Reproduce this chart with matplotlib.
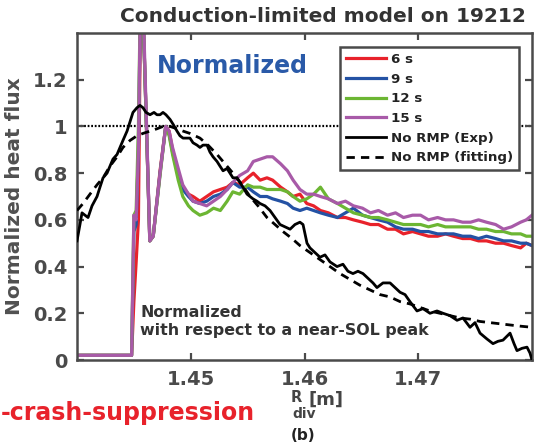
import numpy as np
import matplotlib
matplotlib.use("Agg")
import matplotlib.pyplot as plt
from matplotlib.lines import Line2D

plt.rcParams["font.family"] = ["DejaVu Sans"]
plt.rcParams["font.weight"] = "bold"

# ----------------------------- data ------------------------------------------

# shared radial grid for the RMP time slices [m]
R_rmp = [1.4400, 1.4448, 1.4450, 1.4452, 1.4454, 1.4456, 1.4458, 1.4464, 1.4467,
         1.4473, 1.4478, 1.4481, 1.4484, 1.4489, 1.4493, 1.4498, 1.4502, 1.4508,
         1.4514, 1.4520, 1.4526, 1.4532, 1.4537, 1.4543, 1.4550, 1.4555, 1.4561,
         1.4567, 1.4572, 1.4579, 1.4585, 1.4590, 1.4596, 1.4602, 1.4608, 1.4614,
         1.4621, 1.4629, 1.4636, 1.4643, 1.4651, 1.4658, 1.4665, 1.4673, 1.4680,
         1.4687, 1.4695, 1.4702, 1.4709, 1.4717, 1.4724, 1.4731, 1.4739, 1.4746,
         1.4753, 1.4760, 1.4768, 1.4775, 1.4782, 1.4790, 1.4795, 1.4800]

q_6s = [0.02, 0.02, 0.25, 0.42, 0.60, 1.60, 1.50, 0.51, 0.53, 0.81, 1.00, 0.98,
        0.90, 0.80, 0.74, 0.71, 0.70, 0.68, 0.70, 0.72, 0.73, 0.74, 0.76, 0.75,
        0.78, 0.80, 0.77, 0.78, 0.77, 0.74, 0.72, 0.70, 0.71, 0.67, 0.66, 0.64,
        0.63, 0.61, 0.61, 0.60, 0.59, 0.58, 0.58, 0.56, 0.56, 0.54, 0.55, 0.54,
        0.53, 0.53, 0.54, 0.53, 0.52, 0.52, 0.51, 0.51, 0.50, 0.50, 0.49, 0.48,
        0.50, 0.49]

q_9s = [0.02, 0.02, 0.55, 0.58, 0.90, 1.60, 1.50, 0.51, 0.53, 0.80, 1.00, 0.97,
        0.89, 0.79, 0.73, 0.70, 0.68, 0.67, 0.68, 0.70, 0.71, 0.73, 0.76, 0.74,
        0.74, 0.72, 0.70, 0.70, 0.69, 0.68, 0.67, 0.65, 0.64, 0.65, 0.64, 0.63,
        0.62, 0.61, 0.63, 0.65, 0.62, 0.61, 0.60, 0.59, 0.57, 0.56, 0.56, 0.55,
        0.55, 0.54, 0.54, 0.54, 0.53, 0.53, 0.52, 0.53, 0.52, 0.51, 0.51, 0.50,
        0.50, 0.49]

q_12s = [0.02, 0.02, 0.62, 0.64, 1.00, 1.65, 1.50, 0.51, 0.53, 0.79, 1.00, 0.96,
         0.88, 0.77, 0.70, 0.66, 0.64, 0.62, 0.63, 0.65, 0.64, 0.68, 0.72, 0.71,
         0.75, 0.74, 0.74, 0.73, 0.73, 0.73, 0.72, 0.70, 0.68, 0.69, 0.71, 0.74,
         0.69, 0.67, 0.65, 0.63, 0.62, 0.61, 0.61, 0.60, 0.59, 0.58, 0.58, 0.58,
         0.57, 0.58, 0.57, 0.57, 0.57, 0.57, 0.56, 0.56, 0.55, 0.55, 0.54, 0.54,
         0.53, 0.53]

q_15s = [0.02, 0.02, 0.62, 0.60, 0.90, 1.65, 1.55, 0.51, 0.53, 0.80, 1.00, 0.98,
         0.91, 0.82, 0.75, 0.71, 0.68, 0.67, 0.66, 0.68, 0.70, 0.73, 0.76, 0.79,
         0.81, 0.85, 0.86, 0.87, 0.87, 0.84, 0.81, 0.77, 0.73, 0.71, 0.71, 0.70,
         0.69, 0.67, 0.68, 0.66, 0.65, 0.63, 0.64, 0.62, 0.63, 0.61, 0.62, 0.62,
         0.60, 0.61, 0.60, 0.60, 0.59, 0.59, 0.60, 0.59, 0.58, 0.56, 0.57, 0.59,
         0.60, 0.62]

# no-RMP reference discharge, measured profile
R_exp = [1.44000, 1.44026, 1.44044, 1.44070, 1.44097, 1.44132, 1.44176, 1.44202,
         1.44229, 1.44264, 1.44290, 1.44316, 1.44352, 1.44378, 1.44404, 1.44440,
         1.44466, 1.44492, 1.44527, 1.44554, 1.44580, 1.44607, 1.44642, 1.44677,
         1.44703, 1.44730, 1.44756, 1.44782, 1.44818, 1.44844, 1.44879, 1.44905,
         1.44932, 1.44967, 1.44993, 1.45020, 1.45055, 1.45081, 1.45108, 1.45143,
         1.45169, 1.45196, 1.45231, 1.45257, 1.45284, 1.45319, 1.45345, 1.45371,
         1.45407, 1.45433, 1.45459, 1.45495, 1.45521, 1.45547, 1.45582, 1.45609,
         1.45653, 1.45697, 1.45741, 1.45785, 1.45829, 1.45873, 1.45916, 1.45960,
         1.45987, 1.46022, 1.46048, 1.46092, 1.46136, 1.46180, 1.46224, 1.46286,
         1.46338, 1.46382, 1.46426, 1.46470, 1.46514, 1.46558, 1.46602, 1.46637,
         1.46690, 1.46752, 1.46796, 1.46840, 1.46884, 1.46927, 1.46989, 1.47042,
         1.47103, 1.47165, 1.47218, 1.47279, 1.47341, 1.47393, 1.47455, 1.47499,
         1.47543, 1.47604, 1.47657, 1.47701, 1.47745, 1.47807, 1.47842, 1.47868,
         1.47912, 1.47956, 1.47982, 1.48000]
q_exp = [0.51, 0.58, 0.63, 0.62, 0.61, 0.66, 0.70, 0.74, 0.78, 0.80, 0.83, 0.86,
         0.88, 0.91, 0.94, 0.98, 1.02, 1.06, 1.08, 1.09, 1.08, 1.06, 1.05, 1.06,
         1.05, 1.05, 1.06, 1.05, 1.03, 1.01, 0.98, 0.96, 0.95, 0.95, 0.95, 0.93,
         0.92, 0.91, 0.92, 0.92, 0.89, 0.87, 0.85, 0.83, 0.81, 0.82, 0.80, 0.78,
         0.78, 0.76, 0.74, 0.71, 0.70, 0.69, 0.68, 0.67, 0.66, 0.64, 0.61, 0.58,
         0.57, 0.56, 0.58, 0.59, 0.58, 0.50, 0.48, 0.46, 0.44, 0.45, 0.42, 0.40,
         0.41, 0.38, 0.37, 0.38, 0.37, 0.35, 0.33, 0.31, 0.33, 0.33, 0.31, 0.29,
         0.28, 0.25, 0.21, 0.22, 0.20, 0.21, 0.20, 0.19, 0.17, 0.18, 0.14, 0.16,
         0.115, 0.09, 0.07, 0.08, 0.085, 0.115, 0.07, 0.04, 0.05, 0.055, 0.03, 0.00]

# no-RMP fitted profile
R_fit = [1.44000, 1.44053, 1.44114, 1.44176, 1.44229, 1.44290, 1.44352, 1.44404,
         1.44466, 1.44527, 1.44580, 1.44642, 1.44703, 1.44756, 1.44818, 1.44879,
         1.44932, 1.44993, 1.45081, 1.45152, 1.45231, 1.45301, 1.45371, 1.45451,
         1.45521, 1.45591, 1.45670, 1.45741, 1.45811, 1.45890, 1.45960, 1.46048,
         1.46136, 1.46224, 1.46312, 1.46400, 1.46488, 1.46576, 1.46664, 1.46752,
         1.46840, 1.46927, 1.47015, 1.47103, 1.47191, 1.47279, 1.47367, 1.47455,
         1.47543, 1.47631, 1.47719, 1.47807, 1.47895, 1.48000]
q_fit = [0.64, 0.67, 0.71, 0.75, 0.78, 0.83, 0.87, 0.91, 0.94, 0.96, 0.97, 0.98,
         0.99, 1.00, 1.00, 0.99, 0.98, 0.97, 0.95, 0.92, 0.88, 0.84, 0.80, 0.75,
         0.70, 0.66, 0.61, 0.58, 0.55, 0.52, 0.49, 0.46, 0.43, 0.40, 0.37, 0.345,
         0.32, 0.30, 0.28, 0.27, 0.25, 0.24, 0.225, 0.21, 0.20, 0.19, 0.18, 0.175,
         0.165, 0.16, 0.155, 0.15, 0.145, 0.14]

labels = ["6 s", "9 s", "12 s", "15 s", "No RMP (Exp)", "No RMP (fitting)"]
colors = ["#e8222b", "#2452a4", "#6cb633", "#a85aa8"]

x_ticks = [1.45, 1.46, 1.47]
y_ticks = [0, 0.2, 0.4, 0.6, 0.8, 1, 1.2]
y_ticklabels = ["0", "0.2", "0.4", "0.6", "0.8", "1", "1.2"]

# ----------------------------- figure ----------------------------------------

W, H = 538, 443
fig = plt.figure(figsize=(W / 100, H / 100), dpi=100)
ax = fig.add_axes([77 / W, 1 - 360 / H, 455 / W, 327 / H])

ax.axhline(1.0, color="black", lw=1.6, ls=(0, (0.8, 0.8)), zorder=1)

for q, c in zip([q_6s, q_9s, q_12s, q_15s], colors):
    ax.plot(R_rmp, q, color=c, lw=2.3, zorder=2)
ax.plot(R_exp, q_exp, color="black", lw=2.0, zorder=3)
ax.plot(R_fit, q_fit, color="black", lw=2.0, ls=(0, (3.0, 2.2)), zorder=3)

ax.set_xlim(1.44, 1.48)
ax.set_ylim(0, 1.4)
ax.set_xticks(x_ticks)
ax.set_xticklabels([f"{t:.2f}" for t in x_ticks])
ax.set_yticks(y_ticks)
ax.set_yticklabels(y_ticklabels)

gray = "#4a4a4a"
for s in ax.spines.values():
    s.set_color(gray)
    s.set_linewidth(1.8)
ax.tick_params(direction="in", length=5, width=1.6, color=gray,
               top=True, right=True, labelsize=14, labelcolor=gray, pad=7)
for lab in ax.get_xticklabels() + ax.get_yticklabels():
    lab.set_fontweight("bold")

ax.set_ylabel("Normalized heat flux", fontsize=14.5, fontweight="bold",
              color="#505050", labelpad=6)

ax.text(0.175, 0.9, "Normalized", transform=ax.transAxes, fontsize=17,
        fontweight="bold", color="#2a5aa8", ha="left", va="center")
ax.text(0.139, 0.118, "Normalized\nwith respect to a near-SOL peak",
        transform=ax.transAxes, fontsize=11.4, fontweight="bold",
        color="#333333", ha="left", va="center", linespacing=1.25)

handles = [Line2D([], [], color=c, lw=2.3) for c in colors]
handles += [Line2D([], [], color="black", lw=2.0),
            Line2D([], [], color="black", lw=2.0, ls=(0, (3.0, 2.2)))]
leg = ax.legend(handles, labels, loc="upper right",
                bbox_to_anchor=(519 / W, 1 - 47 / H),
                bbox_transform=fig.transFigure, fontsize=9.6, frameon=True,
                fancybox=False, borderaxespad=0, handlelength=3.0,
                handletextpad=0.35, labelspacing=0.5, borderpad=0.45)
leg.get_frame().set_edgecolor(gray)
leg.get_frame().set_linewidth(1.8)
leg.get_frame().set_alpha(1.0)
for t in leg.get_texts():
    t.set_fontweight("bold")
    t.set_color("#222222")

fig.text(323 / W, 1 - 16 / H, "Conduction-limited model on 19212",
         fontsize=14.5, fontweight="bold", color="#333333",
         ha="center", va="center")

# x-axis label built from pieces: R, subscript, unit
fig.text(296 / W, 1 - 398 / H, "R", fontsize=10.5, fontweight="bold",
         color="#444444", ha="center", va="center")
fig.text(304 / W, 1 - 414 / H, "div", fontsize=10, fontweight="bold",
         color="#444444", ha="center", va="center")
fig.text(326 / W, 1 - 400 / H, "[m]", fontsize=13, fontweight="bold",
         color="#444444", ha="center", va="center")
fig.text(303 / W, 1 - 436 / H, "(b)", fontsize=11, fontweight="bold",
         color="#222222", ha="center", va="center")

fig.text(1 / W, 1 - 413 / H, "-crash-suppression", fontsize=17,
         fontweight="bold", color="#e8222b", ha="left", va="center")

fig.savefig("out.png", dpi=100)
